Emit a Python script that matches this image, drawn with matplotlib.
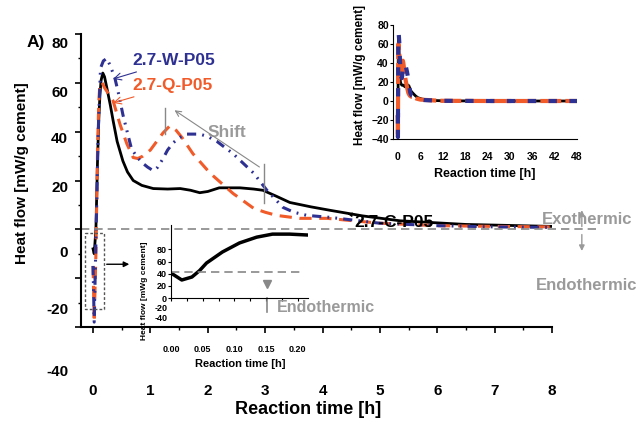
import matplotlib
matplotlib.use("Agg")
import matplotlib.pyplot as plt

plt.rcParams['font.family'] = ['Liberation Sans', 'DejaVu Sans']
plt.rcParams['font.weight'] = 'bold'

# data (time in h, heat flow in mW/g cement)
t_c = [0, 0.02, 0.05, 0.08, 0.10, 0.12, 0.14, 0.17, 0.20, 0.24, 0.30, 0.35, 0.42, 0.52, 0.60, 0.70, 0.85,
       1.05, 1.3, 1.52, 1.7, 1.86, 2.0, 2.2, 2.56, 2.8, 2.96, 3.2, 3.43, 3.8, 4.13, 4.7, 5.35, 6.5, 8.0]
v_c = [-8, -10, 0, 30, 45, 55, 61, 64, 62.5, 58, 51, 44.5, 36, 28, 23.5, 20, 18,
       16.7, 16.5, 16.7, 16, 15, 15.5, 17, 17, 16.5, 16, 13.5, 11, 9.2, 7.8, 5.5, 3.5, 2.0, 1.2]

t_w = [0, 0.02, 0.05, 0.09, 0.13, 0.18, 0.24, 0.30, 0.38, 0.45, 0.52, 0.6, 0.67, 0.77, 0.87, 0.95, 1.05, 1.13,
       1.22, 1.3, 1.4, 1.5, 1.63, 1.86, 2.0, 2.16, 2.44, 2.8, 3.03, 3.31, 3.5, 3.73, 4.13, 5, 6, 7, 8]
v_w = [-15, -38, -5, 40, 66, 69, 70, 67, 62, 55, 47, 39.5, 33, 29.5, 27, 25.5, 24, 25.5,
       29, 32.5, 35.5, 37.5, 39, 39, 38, 36, 31, 23, 16, 9, 7, 5.7, 4.9, 2.5, 1.5, 1.0, 0.8]

t_q = [0, 0.02, 0.05, 0.08, 0.10, 0.12, 0.16, 0.2, 0.27, 0.35, 0.47, 0.59, 0.7, 0.78, 0.87, 1.0, 1.11, 1.22,
       1.34, 1.45, 1.55, 1.74, 2.04, 2.44, 2.8, 3.0, 3.2, 3.6, 4.08, 5, 6, 7, 8]
v_q = [-15, -38, -10, 35, 52, 60, 60, 58, 55.5, 52.6, 43, 35, 29.4, 29, 30, 32.5, 36, 39.5,
       42.4, 40.5, 37.6, 31, 23, 14.7, 8.6, 7, 5.7, 4.5, 4.5, 2.5, 1.5, 1.2, 1.0]

# long-time tail for the 48 h inset
t_tail = [10, 12, 24, 36, 48]
v_tail = [0.5, 0.2, 0, 0, 0]

# zoom of the first minutes (2.7-C-P05)
t_z = [0, 0.017, 0.033, 0.045, 0.056, 0.081, 0.108, 0.135, 0.16, 0.187, 0.214]
v_z = [41, 29.6, 34.5, 45, 57.5, 75.6, 90.5, 100, 105, 105, 103.6]

main_ylabels = ['80', '60', '40', '20', '0', '-20', '-40']
main_ylabel_pos = [75.9, 55.9, 37.1, 17.1, -9.8, -33, -58.4]

BLUE = '#2e3192'
ORANGE = '#f15a29'
GRAY = '#9a9a9a'

fig = plt.figure(figsize=(6.44, 4.21), dpi=100)
W, H = 644, 421

ax = fig.add_axes([81 / W, 1 - 327 / H, (552 - 81) / W, (327 - 34) / H])
ax.plot(t_c, v_c, color='black', lw=2)
ax.plot(t_q, v_q, color=ORANGE, lw=2.2, dashes=(4, 2.5))
ax.plot(t_w, v_w, color=BLUE, lw=2.2, dashes=(3, 2, 0.6, 2, 0.6, 2))
ax.set_xlim(-0.21, 8)
ax.set_ylim(-40, 80)
for s in ['top', 'right']:
    ax.spines[s].set_visible(False)
for s in ['left', 'bottom']:
    ax.spines[s].set_linewidth(1.5)
ax.set_xticks(range(0, 9))
ax.set_xticks([i + 0.5 for i in range(8)], minor=True)
ax.set_yticks(range(-40, 81, 20))
ax.set_yticks(range(-30, 80, 20), minor=True)
ax.set_yticklabels([])
ax.tick_params(axis='both', which='major', direction='out', length=4, width=1.2)
ax.tick_params(axis='both', which='minor', direction='out', length=2.5, width=1)
ax.tick_params(axis='x', pad=37, labelsize=11)
for lab, pos in zip(main_ylabels, main_ylabel_pos):
    ax.text(-0.435, pos, lab, ha='right', va='center', fontsize=11, fontweight='bold', clip_on=False)

# zero line, dashed box and arrows
ax.plot([-0.21, 8.8], [0, 0], color='#888888', lw=1.2, dashes=(5, 3), clip_on=False)
ax.plot([-0.14, 0.19, 0.19, -0.14, -0.14], [-1.6, -1.6, -32.7, -32.7, -1.6],
        color='#555555', lw=1, dashes=(2, 1.5))
ax.annotate('', xy=(0.68, -14.3), xytext=(0.19, -14.3),
            arrowprops=dict(arrowstyle='-|>', color='black', lw=1, mutation_scale=8))
ax.annotate('', xy=(8.52, 9), xytext=(8.52, 0), annotation_clip=False,
            arrowprops=dict(arrowstyle='-|>', color=GRAY, lw=1, mutation_scale=8))
ax.annotate('', xy=(8.52, -10), xytext=(8.52, -1), annotation_clip=False,
            arrowprops=dict(arrowstyle='-|>', color=GRAY, lw=1, mutation_scale=8))
ax.text(8.62, 4.1, 'Exothermic', color=GRAY, fontsize=12, ha='center', va='center', clip_on=False)
ax.text(8.6, -22.9, 'Endothermic', color=GRAY, fontsize=12, ha='center', va='center', clip_on=False)

# series labels
ax.annotate('2.7-W-P05', xy=(0.35, 61.6), xytext=(0.68, 69), color=BLUE, fontsize=12.5,
            va='center', arrowprops=dict(arrowstyle='->', color=BLUE, lw=0.8, shrinkA=2, shrinkB=0))
ax.annotate('2.7-Q-P05', xy=(0.35, 51.8), xytext=(0.68, 58.8), color=ORANGE, fontsize=12.5,
            va='center', arrowprops=dict(arrowstyle='->', color=ORANGE, lw=0.8, shrinkA=2, shrinkB=0))
ax.annotate('2.7-C-P05', xy=(4.39, 6.5), xytext=(4.56, 2.9), color='black', fontsize=12.5,
            va='center', arrowprops=dict(arrowstyle='-|>', color='black', lw=0.8, mutation_scale=6))
ax.text(2.0, 39.6, 'Shift', color=GRAY, fontsize=12.5, va='center')
ax.annotate('', xy=(1.38, 49.4), xytext=(2.94, 24.9),
            arrowprops=dict(arrowstyle='->', color='#888888', lw=0.8))
ax.plot([1.25, 1.25], [39.2, 49.8], color='#888888', lw=1)
ax.plot([2.98, 2.98], [10.6, 26.9], color='#888888', lw=1)

fig.text(22 / W, 1 - 173 / H, 'Heat flow [mW/g cement]', rotation=90, ha='center', va='center', fontsize=11)
fig.text(308 / W, 1 - 410 / H, 'Reaction time [h]', ha='center', va='center', fontsize=13)
fig.text(36 / W, 1 - 43 / H, 'A)', ha='center', va='center', fontsize=12.5)

# inset: 48 h overview
ax1 = fig.add_axes([393 / W, 1 - 139 / H, (577 - 393) / W, (139 - 25) / H], facecolor='none')
ax1.plot(t_c + t_tail, v_c + v_tail, color='black', lw=2)
ax1.plot(t_q + t_tail, v_q + v_tail, color=ORANGE, lw=3, dashes=(5, 1))
ax1.plot(t_w + t_tail, v_w + v_tail, color=BLUE, lw=3, dashes=(2, 3))
ax1.set_xlim(-1.3, 48)
ax1.set_ylim(-40, 80)
ax1.set_xticks(range(0, 49, 6))
ax1.set_yticks(range(-40, 81, 20))
for s in ['top', 'right']:
    ax1.spines[s].set_visible(False)
ax1.tick_params(axis='both', direction='out', length=2, width=0.8, labelsize=7.5)
ax1.tick_params(axis='x', pad=9, length=0)
ax1.tick_params(axis='y', pad=1)
fig.text(485 / W, 1 - 174 / H, 'Reaction time [h]', ha='center', va='center', fontsize=9)
fig.text(360 / W, 1 - 145 / H, 'Heat flow [mW/g cement]', rotation=90, ha='center', va='bottom', fontsize=8.5)

# inset: first minutes
ax2 = fig.add_axes([171 / W, 1 - 298 / H, (308 - 171) / W, (298 - 225) / H], facecolor='none')
ax2.plot(t_z, v_z, color='black', lw=2.5)
ax2.set_xlim(0, 0.216)
ax2.set_ylim(0, 120)
ax2.set_xticks([0, 0.05, 0.10, 0.15, 0.20])
ax2.set_xticklabels(['0.00', '0.05', '0.10', '0.15', '0.20'])
ax2.set_xticks([0.025, 0.075, 0.125, 0.175], minor=True)
ax2.set_yticks([0, 20, 40, 60, 80])
for s in ['top', 'right']:
    ax2.spines[s].set_visible(False)
ax2.tick_params(axis='both', which='both', direction='out', length=2, width=0.8, labelsize=6.5)
ax2.tick_params(axis='x', pad=32)
ax2.tick_params(axis='y', pad=1)
ax2.text(-0.005, -18, '-20', ha='right', va='center', fontsize=6.5, fontweight='bold', clip_on=False)
ax2.text(-0.005, -33, '-40', ha='right', va='center', fontsize=6.5, fontweight='bold', clip_on=False)
ax2.plot([0, 0.203], [42.8, 42.8], color='#888888', lw=1.2, dashes=(5, 3))
ax2.plot([0.151], [23], marker='v', color='#888888', markersize=6)
ax2.plot([0.151, 0.151], [0, -23], color='#888888', lw=1.2, clip_on=False)
ax2.text(0.244, -16.4, 'Endothermic', color=GRAY, fontsize=11.5, ha='center', va='center', clip_on=False)
fig.text(240 / W, 1 - 364 / H, 'Reaction time [h]', ha='center', va='center', fontsize=8)
fig.text(145 / W, 1 - 291 / H, 'Heat flow [mWg cement]', rotation=90, ha='center', va='center', fontsize=6)

fig.savefig('out.png', dpi=100)
